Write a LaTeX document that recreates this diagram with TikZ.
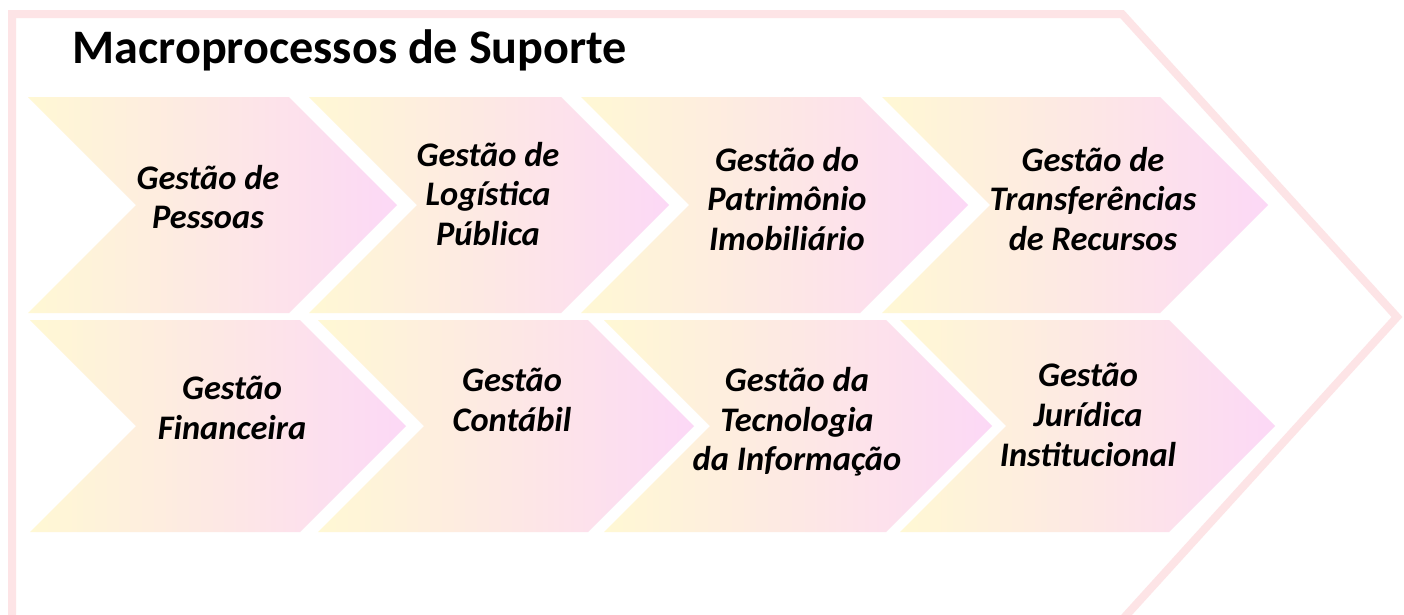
\documentclass[tikz,border=0pt]{standalone}
\usepackage{fontspec}
\setmainfont{Carlito}
\usepackage{tikz}

\definecolor{chevyellow}{RGB}{255,248,212}
\definecolor{chevpeach}{RGB}{253,232,228}
\definecolor{chevpink}{RGB}{252,216,246}
\definecolor{framepink}{RGB}{253,228,230}

\tikzset{
  chevron/.style={left color=chevyellow, right color=chevpink, middle color=chevpeach, draw=none},
  chevtext/.style={font=\bfseries\itshape\fontsize{9.8}{11.3}\selectfont, align=center, black},
  frame/.style={draw=framepink, line width=0.8mm, line join=miter}
}

% left, right corner, top, bottom
\newcommand{\chev}[4]{%
  \shade [chevron] (#1,#3) -- (#2,#3) -- ({#2+(#4-#3)/2},{(#3+#4)/2}) -- (#2,#4)
    -- (#1,#4) -- ({#1+(#4-#3)/2},{(#3+#4)/2}) -- cycle;}

\begin{document}
\begin{tikzpicture}[x=0.1mm, y=-0.1mm]
\useasboundingbox (0, 0) rectangle (1404, 614);
\clip (0, 0) rectangle (1404, 614);
\fill [white] (0, 0) rectangle (1404, 614);

\draw [frame] (12, 14) -- (1122, 14) -- (1397, 317) -- (1122, 620) -- (12, 620) -- cycle;

\node [anchor=base west, inner sep=0pt, font=\bfseries\fontsize{13.7}{16}\selectfont] (title) at (72, 63) {Macroprocessos de Suporte};

\chev{28}{289}{97}{313}
\chev{309}{561}{97}{313}
\chev{581}{860}{97}{313}
\chev{882}{1160}{97}{313}

\chev{30}{300}{320}{532}
\chev{318}{588}{320}{532}
\chev{604}{886}{320}{532}
\chev{900}{1169}{320}{532}

\node [chevtext] (pessoas) at (208, 197) {Gestão de\\Pessoas};
\node [chevtext] (logistica) at (488, 194) {Gestão de\\Logística\\Pública};
\node [chevtext] (patrimonio) at (787, 199) {Gestão do\\Patrimônio\\Imobiliário};
\node [chevtext] (transf) at (1093, 199) {Gestão de\\Transferências\\de Recursos};

\node [chevtext] (financeira) at (232, 408) {Gestão\\Financeira};
\node [chevtext] (contabil) at (512, 400) {Gestão\\Contábil};
\node [chevtext] (tecnologia) at (797, 422) {Gestão da\\Tecnologia\\da Informação};
\node [chevtext] (juridica) at (1088, 415) {Gestão\\Jurídica\\Institucional};
\end{tikzpicture}
\end{document}
